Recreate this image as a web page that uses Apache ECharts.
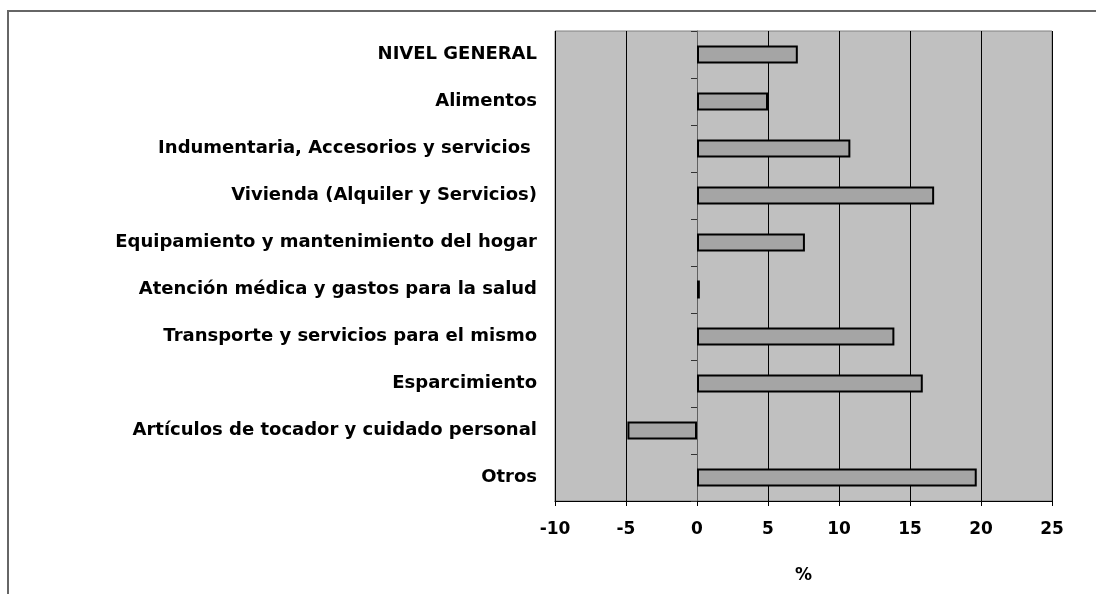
<!DOCTYPE html>
<html>
<head>
<meta charset="utf-8">
<script src="https://cdn.jsdelivr.net/npm/echarts@6/dist/echarts.min.js"></script>
<style>
  html, body { margin: 0; padding: 0; background: #fff; }
  #chart { width: 1096px; height: 594px; }
</style>
</head>
<body>
<div id="chart"></div>
<script>
// rubros del índice, de arriba hacia abajo
var categories = [
    'NIVEL GENERAL',
    'Alimentos',
    'Indumentaria, Accesorios y servicios ',
    'Vivienda (Alquiler y Servicios)',
    'Equipamiento y mantenimiento del hogar',
    'Atención médica y gastos para la salud',
    'Transporte y servicios para el mismo',
    'Esparcimiento',
    'Artículos de tocador y cuidado personal',
    'Otros'
]
// variación en %
var values = [7.1, 5.0, 10.8, 16.7, 7.6, 0.2, 13.9, 15.9, -4.9, 19.7]
var xTicks = { min: -10, max: 25, step: 5 }

var chart = echarts.init(document.getElementById('chart'))

var labelFont = {
    fontFamily: '"DejaVu Sans", sans-serif',
    fontWeight: 'bold',
    fontSize: 17,
    color: '#000'
}

var option = {
    backgroundColor: '#fff',
    animation: false,
    graphic: [
        {
            type: 'rect',
            shape: { x: 8, y: 11, width: 1200, height: 700 },
            style: { fill: null, stroke: '#666', lineWidth: 2 },
            silent: true
        }
    ],
    grid: {
        left: 555,
        right: 44,
        top: 31,
        bottom: 93,
        show: true,
        backgroundColor: '#c0c0c0',
        borderColor: '#808080',
        borderWidth: 1
    },
    xAxis: {
        type: 'value',
        min: xTicks.min,
        max: xTicks.max,
        interval: xTicks.step,
        name: '%',
        nameLocation: 'middle',
        nameGap: 66,
        nameTextStyle: labelFont,
        axisLine: { show: true, onZero: false, lineStyle: { color: '#000', width: 1 } },
        axisTick: { show: true, length: 5, lineStyle: { color: '#000' } },
        axisLabel: Object.assign({ margin: 20 }, labelFont),
        splitLine: { show: true, lineStyle: { color: '#000', width: 1 } }
    },
    yAxis: [
        {
            type: 'category',
            data: categories,
            inverse: true,
            position: 'left',
            axisLine: { show: false, onZero: false },
            axisTick: { show: false },
            axisLabel: Object.assign({ margin: 18, align: 'right' }, labelFont, { fontSize: 18 }),
            splitLine: { show: false }
        },
        {
            // eje de categorías dibujado sobre el cero
            type: 'category',
            data: categories,
            inverse: true,
            position: 'left',
            axisLine: { show: true, onZero: true, lineStyle: { color: '#606060', width: 1 } },
            axisTick: { show: true, length: 6, lineStyle: { color: '#333', width: 1 } },
            axisLabel: { show: false },
            splitLine: { show: false }
        }
    ],
    series: [
        {
            type: 'bar',
            yAxisIndex: 0,
            data: values,
            barWidth: 18,
            itemStyle: {
                color: '#a5a5a5',
                borderColor: '#000',
                borderWidth: 2
            }
        }
    ]
}

chart.setOption(option)
</script>
</body>
</html>
